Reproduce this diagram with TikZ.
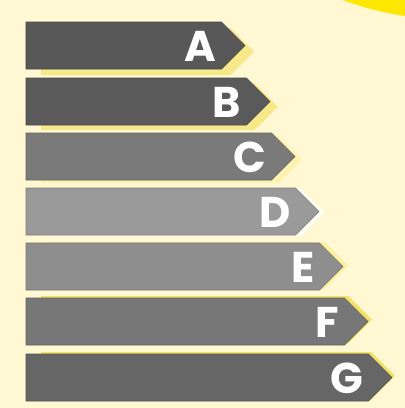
\documentclass[tikz,border=0pt]{standalone}
\usepackage{fontspec}
\newfontfamily\barfont{Poppins}
\definecolor{bg}{HTML}{FFF8D3}
\definecolor{sun}{HTML}{FFE800}
\definecolor{gA}{HTML}{585858}
\definecolor{gB}{HTML}{5A5A5A}
\definecolor{gC}{HTML}{7A7A7A}
\definecolor{gD}{HTML}{9A9A9A}
\definecolor{gE}{HTML}{8E8E8E}
\definecolor{gF}{HTML}{777777}
\definecolor{gG}{HTML}{666666}
\definecolor{sA}{HTML}{F7E98A}
\definecolor{sC}{HTML}{FFF1B0}
\definecolor{sD}{HTML}{FFFFF4}
\definecolor{sE}{HTML}{FBEFA0}
\definecolor{sF}{HTML}{F2E26A}
\tikzset{
  barletter/.style={text=white,font=\barfont\bfseries\fontsize{43}{43}\selectfont,inner sep=0pt,anchor=east},
  barshape/.style={line width=0.6pt,line join=miter}
}
\begin{document}
\begin{tikzpicture}[x=1pt,y=-1pt]
\fill[bg] (0,0) rectangle (405,408);
\useasboundingbox (0,0) rectangle (405,408);
\begin{scope}
\clip (0,0) rectangle (405,408);
\fill[sun] (448,-281) circle (300);
\end{scope}
\foreach \L/\top/\tip/\fc/\sc/\dx/\dy in {
  A/22/245/gA/sA/9/6,
  B/78/270/gB/sA/8/5,
  C/133/295/gC/sC/7/3,
  D/188/319/gD/sD/6/1,
  E/243/343/gE/sE/5/-1,
  F/298/368/gF/sF/4/-2,
  G/354/392/gG/sF/3/-2}{
  \pgfmathsetmacro{\bot}{\top+47}
  \pgfmathsetmacro{\mid}{\top+23.5}
  \pgfmathsetmacro{\re}{\tip-23.5}
  % shadow
  \fill[\sc] (41,\top+\dy) -- (\re+\dx,\top+\dy) -- (\tip+\dx,\mid+\dy) -- (\re+\dx,\bot+\dy) -- (41,\bot+\dy) -- cycle;
  % bar
  \filldraw[barshape,fill=\fc,draw=\fc!80!black] (26,\top) -- (\re,\top) -- (\tip,\mid) -- (\re,\bot) -- (26,\bot) -- cycle;
  \node[barletter] (l\L) at (\re-5,\mid+1) {\L};
}
\end{tikzpicture}
\end{document}
